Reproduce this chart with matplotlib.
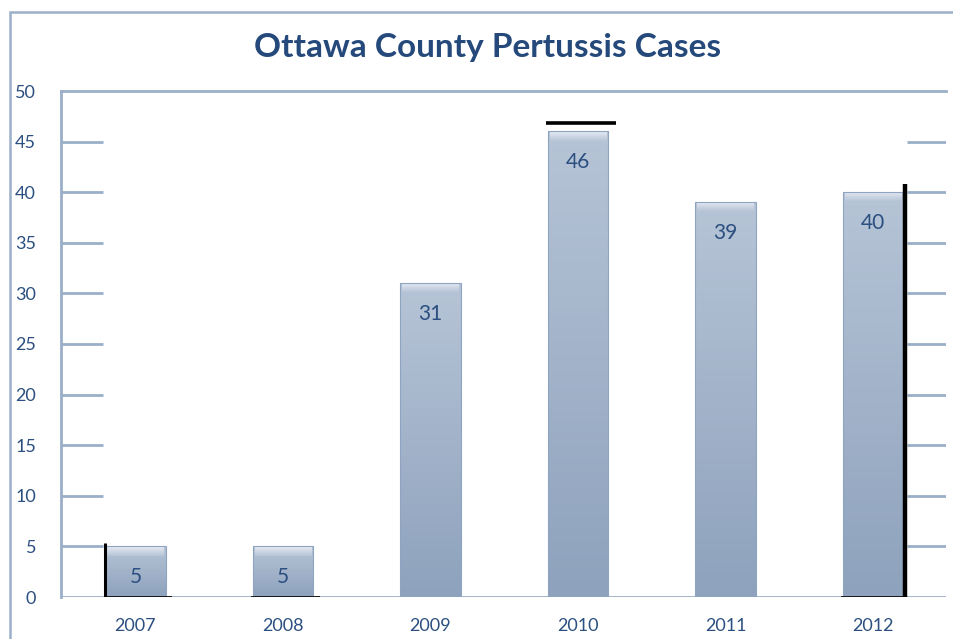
import numpy as np
import matplotlib
matplotlib.use("Agg")
import matplotlib.pyplot as plt
from matplotlib.patches import Rectangle
from matplotlib.colors import LinearSegmentedColormap

years = ["2007", "2008", "2009", "2010", "2011", "2012"]
cases = [5, 5, 31, 46, 39, 40]
y_ticks = [0, 5, 10, 15, 20, 25, 30, 35, 40, 45, 50]

text_col = "#2b4f80"
line_col = "#9aafc8"
bar_w = 0.41

plt.rcParams["font.family"] = ["Lato", "DejaVu Sans"]

fig = plt.figure(figsize=(9.54, 6.39), dpi=100)
# outer chart frame
fig.patches.append(Rectangle((10 / 954, -0.05), 1.2, 1 - 12 / 639 + 0.05,
                             transform=fig.transFigure, fill=False,
                             edgecolor=line_col, lw=1.8))

ax = fig.add_axes([61 / 954, 1 - 597 / 639, 885 / 954, (597 - 91) / 639])
x = np.arange(len(years))
ax.set_xlim(-0.505, 5.495)
ax.set_ylim(0, 50)

for s in ["right", "bottom"]:
    ax.spines[s].set_visible(False)
ax.spines["left"].set_color(line_col)
ax.spines["left"].set_linewidth(2)
ax.spines["top"].set_color(line_col)
ax.spines["top"].set_linewidth(2)
ax.axhline(0, color=line_col, lw=2, zorder=1)

# gridline stubs only show at the edges of the plot area
for t in y_ticks[1:-1]:
    ax.hlines(t, -0.505, -0.22, color=line_col, lw=2, zorder=1)
    ax.hlines(t, 5.23, 5.495, color=line_col, lw=2, zorder=1)

cmap = LinearSegmentedColormap.from_list("bar", ["#8ea2bd", "#b6c4d6"])
grad = np.linspace(0, 1, 256).reshape(-1, 1)
bevel = LinearSegmentedColormap.from_list("bev", ["#b6c4d6", "#e3e9f1"])
bars = ax.bar(x, cases, width=bar_w, color="none", edgecolor="#8fa4c0",
              lw=0.8, zorder=3)
for b, v in zip(bars, cases):
    x0 = b.get_x()
    im = ax.imshow(grad, cmap=cmap, aspect="auto", origin="lower",
                   extent=[x0, x0 + bar_w, 0, v], zorder=2)
    im.set_clip_path(b)
    # soft bevel at top
    ax.imshow(grad, cmap=bevel, aspect="auto", origin="lower",
              extent=[x0 + 0.012, x0 + bar_w - 0.012, v - 0.9, v - 0.1], zorder=2.5)
    ax.text(x0 + bar_w / 2, v - 3.0, str(v), ha="center", va="center",
            fontsize=15, color=text_col, zorder=4)

# dark render artifacts seen in the source image
ax.vlines(-0.21, 0, 5.3, color="black", lw=2.2, zorder=4)
ax.hlines(0, -0.215, 0.25, color="black", lw=1.2, zorder=4)
ax.hlines(0, 0.78, 1.25, color="black", lw=1.2, zorder=4)
ax.hlines(46.8, 2.78, 3.26, color="black", lw=2.6, zorder=4)
ax.vlines(5.22, 0, 40.8, color="black", lw=3.2, zorder=4)
ax.hlines(0, 4.78, 5.23, color="black", lw=1.2, zorder=4)

ax.set_xticks(x)
ax.set_xticklabels(years)
ax.set_yticks(y_ticks)
ax.tick_params(axis="both", length=0, labelsize=13, labelcolor=text_col)
ax.tick_params(axis="y", pad=18)
ax.tick_params(axis="x", pad=15)

fig.text(0.511, 1 - 48 / 639, "Ottawa County Pertussis Cases", ha="center",
         va="center", fontsize=24, fontweight="bold", color="#24497a")

fig.savefig("out.png", dpi=100)
